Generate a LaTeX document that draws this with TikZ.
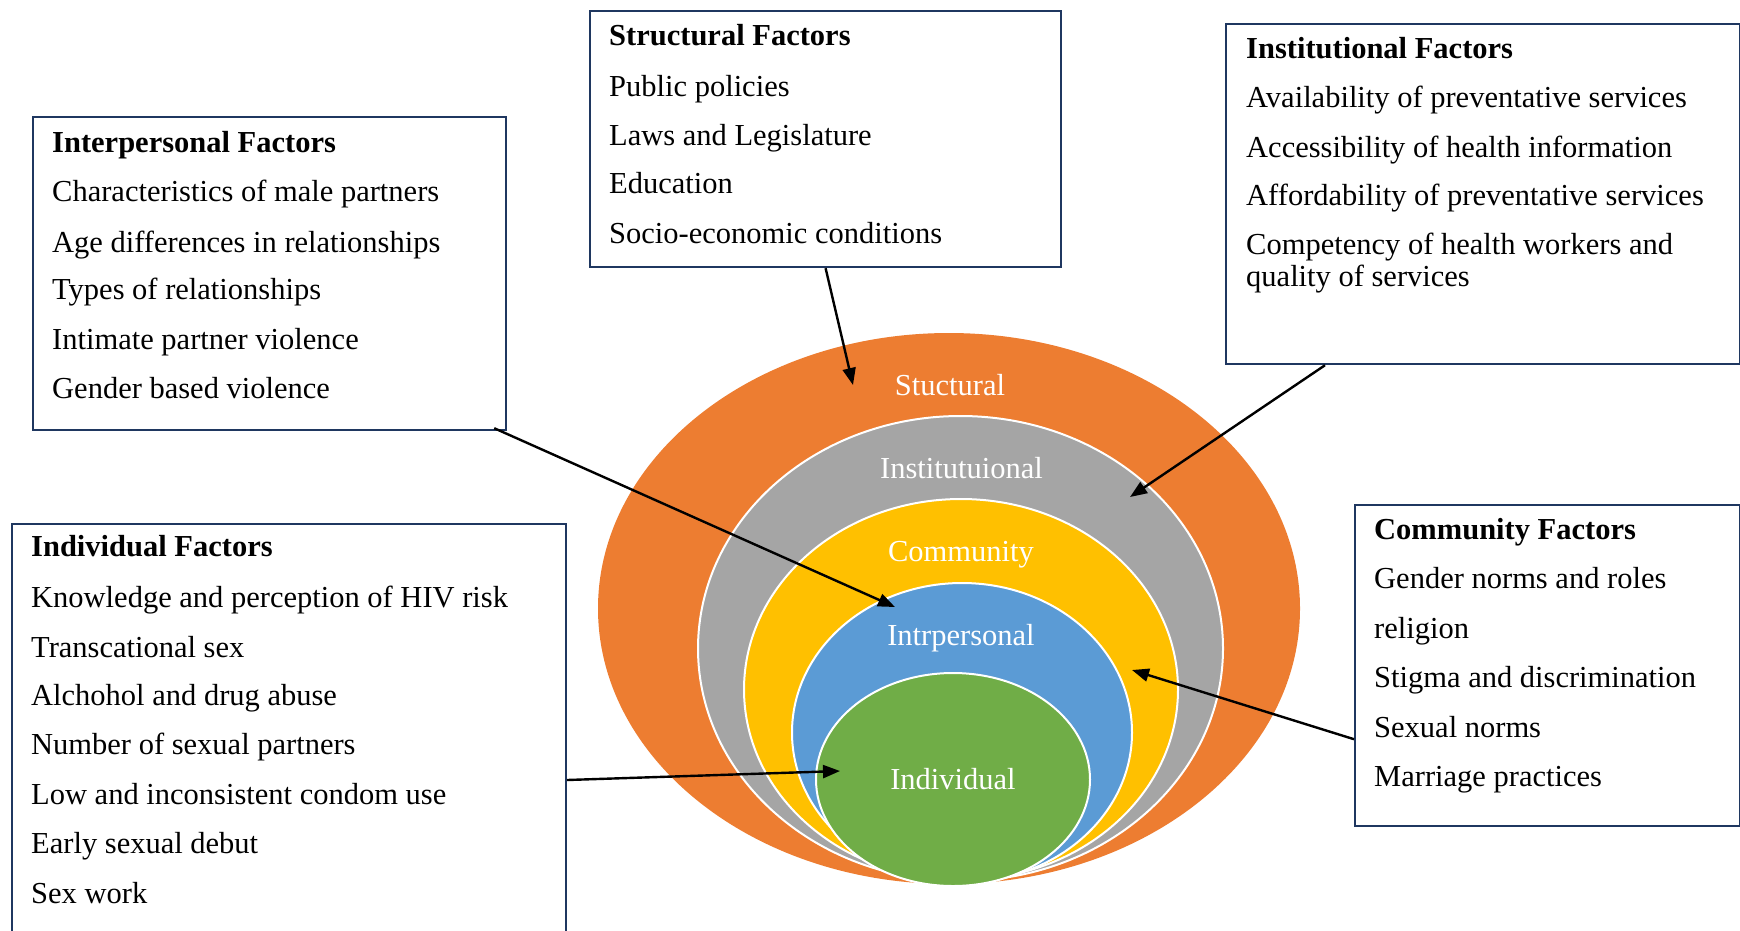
\documentclass[tikz,border=0pt]{standalone}
\usepackage{fontspec}
\setmainfont{Liberation Serif}
\usetikzlibrary{arrows.meta,shapes.geometric,calc}

\definecolor{ringorange}{HTML}{ED7D31}
\definecolor{ringgray}{HTML}{A5A5A5}
\definecolor{ringyellow}{HTML}{FFC000}
\definecolor{ringblue}{HTML}{5B9BD5}
\definecolor{ringgreen}{HTML}{70AD47}
\definecolor{boxline}{HTML}{1F3760}

\begin{document}
\begin{tikzpicture}[x=1pt,y=-1pt,
  panel/.style={draw=boxline, line width=2.2pt, fill=white, anchor=north west, inner sep=0pt},
  item/.style={anchor=base west, inner sep=0pt, font=\fontsize{30.5}{36}\selectfont},
  head/.style={anchor=base west, inner sep=0pt, font=\fontsize{30.5}{36}\selectfont\bfseries},
  ring/.style={ellipse, draw=white, line width=2pt, inner sep=0pt},
  ringlabel/.style={anchor=base, inner sep=0pt, text=white, font=\fontsize{30.5}{36}\selectfont},
  link/.style={draw=black, line width=2.4pt, -{Triangle[length=17pt,width=13pt]}}
]
\useasboundingbox (0,0) rectangle (1740,930);
\clip (0,0) rectangle (1740,930);

% nested levels of the model
\node[ring, draw=none, fill=ringorange, minimum width=702pt, minimum height=551pt] (lvStruct) at (949,608.5) {};
\node[ring, fill=ringgray,   minimum width=525pt, minimum height=465pt] (lvInst) at (960.5,648.5) {};
\node[ring, fill=ringyellow, minimum width=434pt, minimum height=381pt] (lvComm) at (961,689.5) {};
\node[ring, fill=ringblue,   minimum width=340pt, minimum height=299pt] (lvInter) at (962,732.5) {};
\node[ring, fill=ringgreen,  minimum width=274pt, minimum height=213pt] (lvIndiv) at (953,779.5) {};

\node[ringlabel] (lbStruct) at (950,395) {Stuctural};
\node[ringlabel] (lbInst)   at (961.5,478) {Institutuional};
\node[ringlabel] (lbComm)   at (961,561) {Community};
\node[ringlabel] (lbInter)  at (961,645) {Intrpersonal};
\node[ringlabel] (lbIndiv)  at (953,789) {Individual};

% factor panels
\node[panel, minimum width=471pt, minimum height=256pt] (sbox) at (589,10) {};
\node[head] (s0) at (609,45)  {Structural Factors};
\node[item] (s1) at (609,96)  {Public policies};
\node[item] (s2) at (609,145) {Laws and Legislature};
\node[item] (s3) at (609,193) {Education};
\node[item] (s4) at (609,243) {Socio-economic conditions};

\node[panel, minimum width=473pt, minimum height=313pt] (pbox) at (32,116) {};
\node[head] (p0) at (52,152) {Interpersonal Factors};
\node[item] (p1) at (52,201) {Characteristics of male partners};
\node[item] (p2) at (52,252) {Age differences in relationships};
\node[item] (p3) at (52,299) {Types of relationships};
\node[item] (p4) at (52,349) {Intimate partner violence};
\node[item] (p5) at (52,398) {Gender based violence};

\node[panel, minimum width=514pt, minimum height=340pt] (ibox) at (1225,23) {};
\node[head] (i0) at (1246,58)  {Institutional Factors};
\node[item] (i1) at (1246,107) {Availability of preventative services};
\node[item] (i2) at (1246,157) {Accessibility of health information};
\node[item] (i3) at (1246,205) {Affordability of preventative services};
\node[item] (i4) at (1246,254) {Competency of health workers and};
\node[item] (i5) at (1246,286) {quality of services};

\node[panel, minimum width=554pt, minimum height=460pt] (vbox) at (11,523) {};
\node[head] (v0) at (31,556) {Individual Factors};
\node[item] (v1) at (31,607) {Knowledge and perception of HIV risk};
\node[item] (v2) at (31,657) {Transcational sex};
\node[item] (v3) at (31,705) {Alchohol and drug abuse};
\node[item] (v4) at (31,754) {Number of sexual partners};
\node[item] (v5) at (31,804) {Low and inconsistent condom use};
\node[item] (v6) at (31,853) {Early sexual debut};
\node[item] (v7) at (31,903) {Sex work};

\node[panel, minimum width=385pt, minimum height=321pt] (cbox) at (1354,504) {};
\node[head] (c0) at (1374,539) {Community Factors};
\node[item] (c1) at (1374,588) {Gender norms and roles};
\node[item] (c2) at (1374,638) {religion};
\node[item] (c3) at (1374,687) {Stigma and discrimination};
\node[item] (c4) at (1374,737) {Sexual norms};
\node[item] (c5) at (1374,786) {Marriage practices};

% connector ends
\coordinate (pOut) at ($(pbox.south east)+(-13,-3)$);
\coordinate (iOut) at ($(ibox.south west)+(100,0)$);
\coordinate (cOut) at ($(cbox.south west)+(0,-88)$);
\coordinate (vOut) at ($(vbox.north east)+(0,257)$);

\coordinate (tipStruct) at (853,385);
\coordinate (tipInst)   at (1130,497);
\coordinate (tipComm)   at (1132,670);
\coordinate (tipInter)  at (895,607);
\coordinate (tipIndiv)  at (840,771);

\draw[link] (sbox.south) -- (tipStruct);
\draw[link] (pOut) -- (tipInter);
\draw[link] (iOut) -- (tipInst);
\draw[link] (cOut) -- (tipComm);
\draw[link] (vOut) -- (tipIndiv);
\end{tikzpicture}
\end{document}
